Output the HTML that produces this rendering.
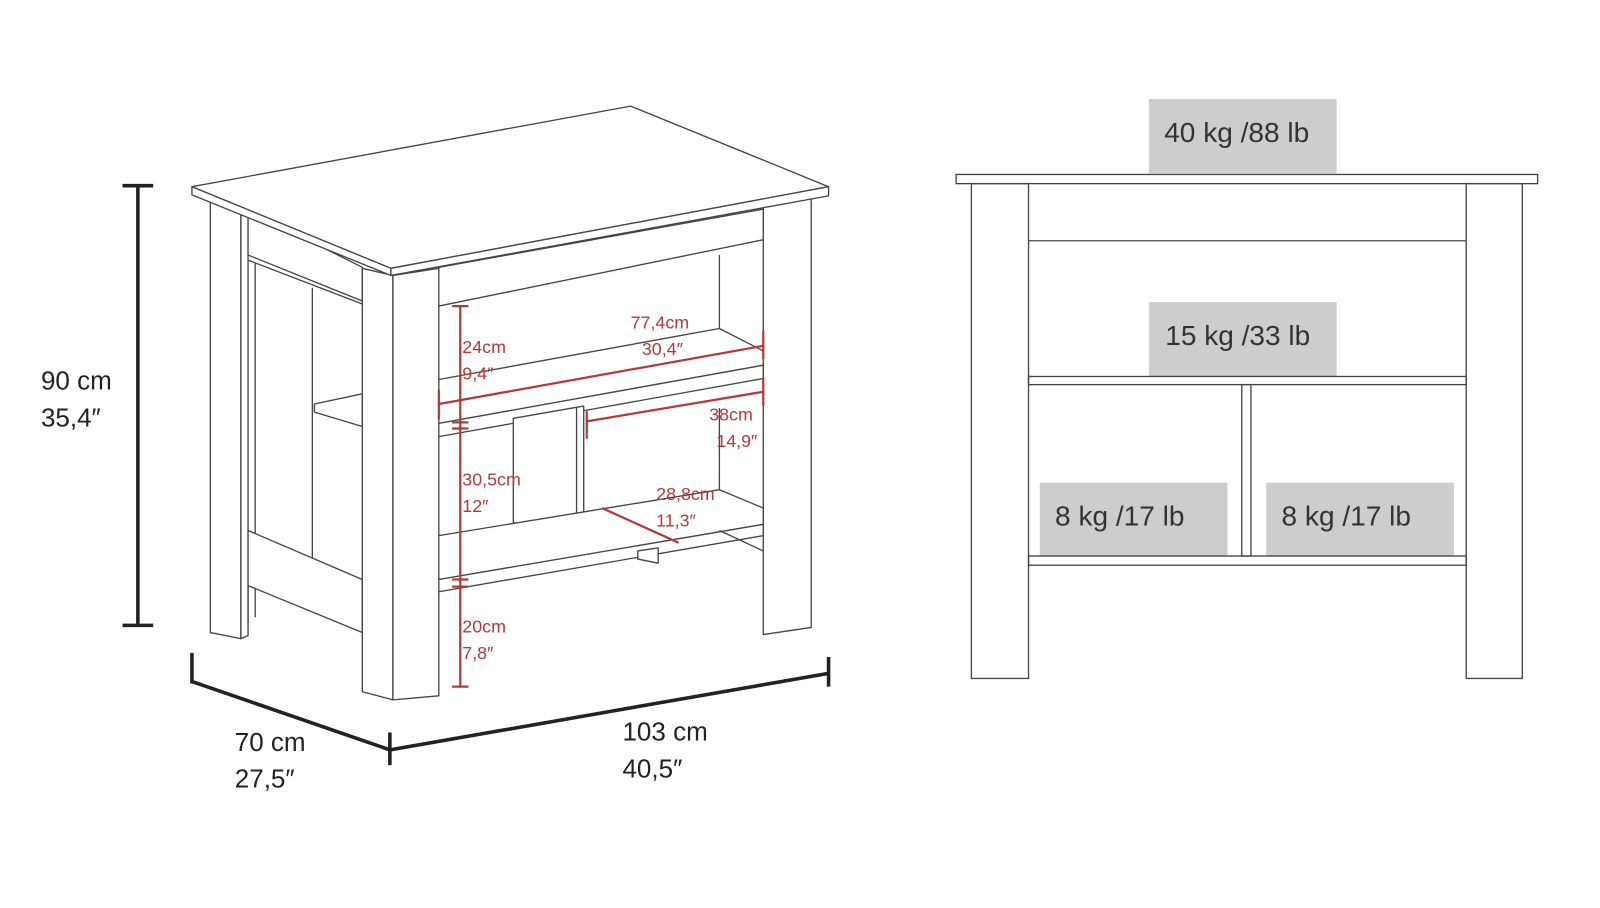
<!DOCTYPE html>
<html><head><meta charset="utf-8"><style>
html,body{margin:0;padding:0;background:#fff;}
svg{display:block;}
text{font-family:"Liberation Sans",sans-serif;}
</style></head><body>
<svg width="1600" height="908" viewBox="0 0 1568 890" xmlns="http://www.w3.org/2000/svg">
<g fill="#fff" stroke="#444" stroke-width="1.3" stroke-linejoin="round">
<polygon points="206,196 236,204 236,626 206,620"/>
<polygon points="236,204 243,206 243,623 236,626"/>
<polygon points="243,206 355,262 355,295 243,250"/>
<line x1="243" y1="255" x2="355" y2="298"/>
<line x1="250" y1="258" x2="250" y2="545"/>
<line x1="306" y1="282" x2="306" y2="548"/>
<polygon points="308,396 355,386 355,418 308,404"/>
<polygon points="243,520 355,568 355,620 243,574"/>
<line x1="243" y1="574" x2="243" y2="610"/>
<line x1="250" y1="576" x2="250" y2="605"/>
<polygon points="748,200 795,193 795,615 748,622"/>
<polygon points="430,262 748,205 748,235 430,300"/>
<line x1="705" y1="250" x2="705" y2="325"/>
<line x1="705" y1="400" x2="705" y2="480"/>
<polygon points="430,372 705,322 748,344 748,358 430,415"/>
<polygon points="430,415 748,358 748,371 430,428"/>
<polygon points="503,410 572,398 572,540 503,512"/>
<line x1="565" y1="400" x2="565" y2="537"/>
<polygon points="430,525 705,480 748,498 748,514 430,568"/>
<polygon points="430,568 748,514 748,525 430,580"/>
<polygon points="625,540 645,537 645,552 625,548"/>
<line x1="705" y1="520" x2="748" y2="540"/>
<polygon points="355,263 385,270 385,686 355,678"/>
<polygon points="385,270 430,263 430,682 385,686"/>
<polygon points="188,183 618,104 812,183 383,263"/>
<polygon points="188,183 383,263 383,270 188,191"/>
<polygon points="383,263 812,183 812,192 383,270"/>
</g>
<g stroke="#b23a3a" stroke-width="2.2" fill="none">
<line x1="451" y1="300" x2="451" y2="673"/>
<line x1="443" y1="300" x2="459" y2="300"/>
<line x1="443" y1="414" x2="459" y2="414"/>
<line x1="443" y1="420" x2="459" y2="420"/>
<line x1="443" y1="568" x2="459" y2="568"/>
<line x1="443" y1="575" x2="459" y2="575"/>
<line x1="443" y1="673" x2="459" y2="673"/>
<line x1="430" y1="396" x2="748" y2="339"/>
<line x1="430" y1="382" x2="430" y2="411"/>
<line x1="748" y1="324" x2="748" y2="352"/>
<line x1="575" y1="413" x2="748" y2="384"/>
<line x1="575" y1="403" x2="575" y2="430"/>
<line x1="748" y1="370" x2="748" y2="398"/>
<line x1="590" y1="498" x2="665" y2="532"/>
</g>
<g fill="#b23a3a" font-size="17.5">
<text x="453" y="346">24cm</text><text x="453" y="372">9,4″</text>
<text x="618" y="322">77,4cm</text><text x="629" y="348">30,4″</text>
<text x="695" y="412">38cm</text><text x="702" y="438">14,9″</text>
<text x="453" y="476">30,5cm</text><text x="453" y="502">12″</text>
<text x="643" y="490">28,8cm</text><text x="643" y="516">11,3″</text>
<text x="453" y="620">20cm</text><text x="453" y="646">7,8″</text>
</g>
<g stroke="#222" stroke-width="3.5" fill="none">
<line x1="135" y1="182" x2="135" y2="613"/>
<line x1="120" y1="182" x2="150" y2="182"/>
<line x1="120" y1="613" x2="150" y2="613"/>
<polyline points="188,668 382,735 812,660"/>
<line x1="188" y1="640" x2="188" y2="670"/>
<line x1="382" y1="718" x2="382" y2="750"/>
<line x1="812" y1="644" x2="812" y2="673"/>
</g>
<g fill="#222" font-size="25.5">
<text x="40" y="382">90 cm</text><text x="40" y="418">35,4″</text>
<text x="230" y="736">70 cm</text><text x="230" y="772">27,5″</text>
<text x="610" y="726">103 cm</text><text x="610" y="762">40,5″</text>
</g>
<g fill="#cdcdcd">
<rect x="1126" y="97" width="184" height="73"/>
<rect x="1126" y="296" width="184" height="73"/>
<rect x="1019" y="473" width="184" height="72"/>
<rect x="1241" y="473" width="184" height="72"/>
</g>
<g fill="none" stroke="#444" stroke-width="1.3">
<rect x="937" y="171" width="570" height="9"/>
<rect x="952" y="180" width="56" height="485"/>
<rect x="1437" y="180" width="55" height="485"/>
<line x1="1008" y1="236" x2="1437" y2="236"/>
<rect x="1008" y="369" width="429" height="8"/>
<rect x="1217" y="377" width="9" height="168"/>
<rect x="1008" y="545" width="429" height="9"/>
</g>
<g fill="#333" font-size="27.5">
<text x="1141" y="139">40 kg /88 lb</text>
<text x="1142" y="338">15 kg /33 lb</text>
<text x="1034" y="515">8 kg /17 lb</text>
<text x="1256" y="515">8 kg /17 lb</text>
</g>
</svg>
</body></html>
